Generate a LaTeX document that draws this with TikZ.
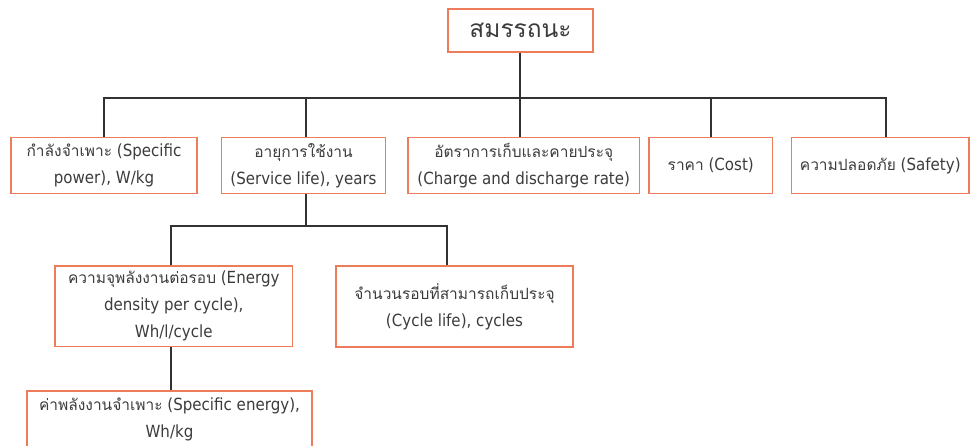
\documentclass[tikz,border=0pt]{standalone}
\usepackage{fontspec}
\setmainfont[Script=Thai]{Loma}
\newfontfamily\lat[FakeStretch=0.9,Scale=1.08]{DejaVu Sans}
\definecolor{boxline}{RGB}{237,125,90}
\definecolor{conn}{RGB}{50,50,50}
\definecolor{txt}{RGB}{60,60,60}
\tikzset{
  box/.style={draw=boxline, line width=1.3pt, fill=white, inner sep=0pt,
    align=center, text=txt, font=\fontsize{15.5}{27}\selectfont},
  link/.style={draw=conn, line width=1.3pt}
}
\begin{document}
\begin{tikzpicture}[x=1pt,y=-1pt]
\clip (0,0) rectangle (972,446);
\fill[white] (0,0) rectangle (972,446);
% level 0
\node[box, minimum width=145pt, minimum height=43pt, font=\fontsize{24.5}{28}\selectfont] (top) at (520.5,30.5) {สมรรถนะ};
% level 1
\node[box, minimum width=186pt, minimum height=56pt] (n1) at (104,165.5) {กำลังจำเพาะ{\lat{} (Specific}\\{\lat power), W/kg}};
\node[box, minimum width=164pt, minimum height=56pt] (n2) at (303.5,165.5) {อายุการใช้งาน\\{\lat (Service life), years}};
\node[box, minimum width=231.5pt, minimum height=56pt] (n3) at (523.75,165.5) {อัตราการเก็บและคายประจุ\\{\lat (Charge and discharge rate)}};
\node[box, minimum width=123.5pt, minimum height=56pt] (n4) at (710.75,165.5) {ราคา{\lat{} (Cost)}};
\node[box, minimum width=177.5pt, minimum height=56pt] (n5) at (880.25,165.5) {ความปลอดภัย{\lat{} (Safety)}};
% level 2
\node[box, minimum width=237.5pt, minimum height=80.5pt] (a) at (173.75,306.25) {ความจุพลังงานต่อรอบ{\lat{} (Energy}\\{\lat density per cycle),}\\{\lat Wh/l/cycle}};
\node[box, minimum width=237pt, minimum height=81pt] (b) at (454.5,306.5) {จำนวนรอบที่สามารถเก็บประจุ\\{\lat (Cycle life), cycles}};
% level 3
\node[box, minimum width=285pt, minimum height=57pt] (c) at (169.5,419.5) {ค่าพลังงานจำเพาะ{\lat{} (Specific energy),}\\{\lat Wh/kg}};
% junctions
\coordinate (j0) at (520,98);
\coordinate (j1) at (104,98);
\coordinate (j2) at (306,98);
\coordinate (j3) at (520,98);
\coordinate (j4) at (711,98);
\coordinate (j5) at (886,98);
\coordinate (k0) at (306,226);
\coordinate (ka) at (171,226);
\coordinate (kb) at (447,226);
\coordinate (ma) at (171,346.5);
% connectors
\draw[link] (top.south -| j0) -- (j0);
\draw[link, line join=miter] (j1 |- n1.north) -- (j1) -- (j5) -- (j5 |- n5.north);
\draw[link] (j2) -- (j2 |- n2.north);
\draw[link] (j3) -- (j3 |- n3.north);
\draw[link] (j4) -- (j4 |- n4.north);
\draw[link] (n2.south -| k0) -- (k0);
\draw[link, line join=miter] (ka |- a.north) -- (ka) -- (kb) -- (kb |- b.north);
\draw[link] (ma |- a.south) -- (ma |- c.north);
\end{tikzpicture}
\end{document}
